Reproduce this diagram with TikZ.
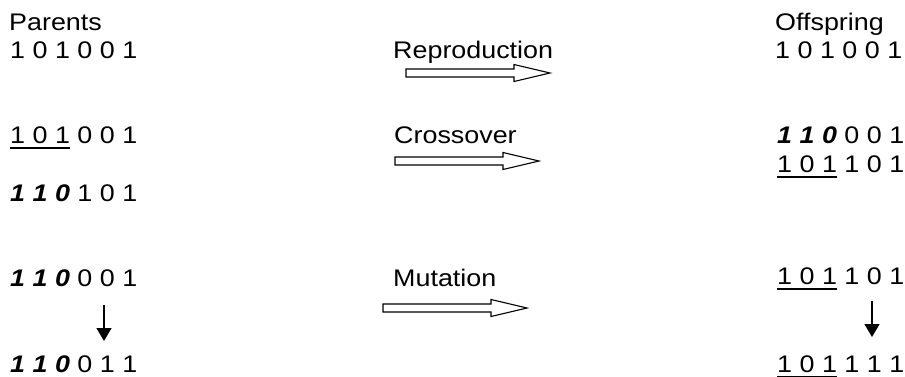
\documentclass[tikz,border=0pt]{standalone}
\usepackage{fontspec}
\setmainfont{Liberation Sans}[FakeStretch=1.12]
\usetikzlibrary{arrows.meta}
\newsavebox\ulbox
\newcommand\ulpart[1]{\sbox\ulbox{#1}\rlap{\rule[-5.75pt]{\wd\ulbox}{1.5pt}}\usebox\ulbox}
\newcommand\bipart[1]{{\bfseries\itshape #1}}
\tikzset{
  lbl/.style={inner sep=0pt, anchor=base west, font=\fontsize{24}{28}\selectfont},
  blockarr/.pic={\draw[line width=1.1pt, line join=miter]
     (0,-4) -- (108,-4) -- (108,-8.5) -- (144,0) -- (108,8.5) -- (108,4) -- (0,4) -- cycle;},
  mutarr/.style={line width=1.3pt, -{Triangle[width=15pt,length=13pt]}}
}
\begin{document}
\begin{tikzpicture}[x=1pt, y=-1pt]
\useasboundingbox (0,0) rectangle (905,376);
% headers
\node[lbl] (par) at (9,30) {Parents};
\node[lbl] (off) at (775,30) {Offspring};
% reproduction
\node[lbl] (p1) at (10,58) {1 0 1 0 0 1};
\node[lbl] (rep) at (393,58) {Reproduction};
\node[lbl] (o1) at (775,58) {1 0 1 0 0 1};
\pic (arrR) at (406,73) {blockarr};
% crossover
\node[lbl] (p2) at (10,143) {\ulpart{1 0 1} 0 0 1};
\node[lbl] (p3) at (10,201) {\bipart{1 1 0} 1 0 1};
\node[lbl] (cro) at (394,143) {Crossover};
\node[lbl] (o2) at (777,143) {\bipart{1 1 0} 0 0 1};
\node[lbl] (o3) at (777,172) {\ulpart{1 0 1} 1 0 1};
\pic (arrC) at (395,161) {blockarr};
% mutation
\node[lbl] (p4) at (10,286) {\bipart{1 1 0} 0 0 1};
\node[lbl] (p5) at (10,372) {\bipart{1 1 0} 0 1 1};
\node[lbl] (mut) at (393,286) {Mutation};
\node[lbl] (o4) at (777,284) {\ulpart{1 0 1} 1 0 1};
\node[lbl] (o5) at (777,372) {\ulpart{1 0 1} 1 1 1};
\pic (arrM) at (383,308) {blockarr};
\coordinate (la) at (104,305);
\coordinate (lb) at (104,341);
\coordinate (ra) at (872,301);
\coordinate (rb) at (872,337);
\draw[mutarr] (la) -- (lb);
\draw[mutarr] (ra) -- (rb);
\end{tikzpicture}
\end{document}
